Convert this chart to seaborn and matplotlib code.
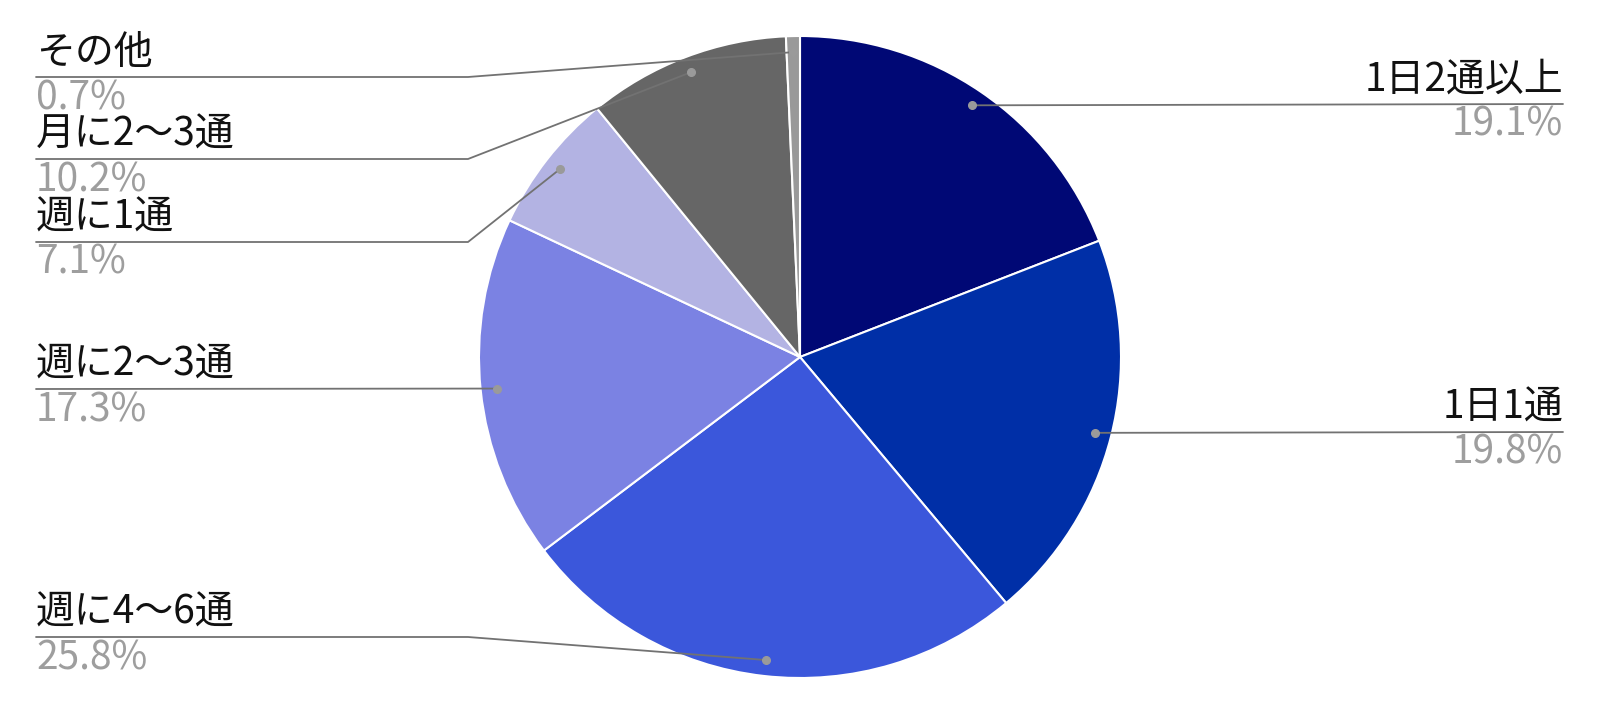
import matplotlib
matplotlib.use("Agg")
import matplotlib.pyplot as plt
import numpy as np
import seaborn as sns

# data, clockwise from 12 o'clock
categories = ["1日2通以上", "1日1通", "週に4〜6通", "週に2〜3通", "週に1通", "月に2〜3通", "その他"]
shares = [19.1, 19.8, 25.8, 17.3, 7.1, 10.2, 0.7]
colors = ["#000875", "#002fa7", "#3b57db", "#7b82e3", "#b3b3e3", "#666666", "#999999"]

# label layout (pixel rows from top, side)
label_rows = [104, 432, 637, 389, 242, 159, 77]
label_side = ["right", "right", "left", "left", "left", "left", "left"]

W, H = 1600, 714
CX, CY, R = 800, 357, 321

sns.set_theme(style="white")
plt.rcParams["font.family"] = ["Noto Sans CJK JP", "DejaVu Sans"]

fig = plt.figure(figsize=(W / 100, H / 100), dpi=100)
ax = fig.add_axes([0, 0, 1, 1])

wedges, _ = ax.pie(
    shares, colors=colors, startangle=90, counterclock=False,
    center=(CX, H - CY), radius=R,
    wedgeprops=dict(edgecolor="white", linewidth=1.5),
)
ax.set_xlim(0, W)
ax.set_ylim(0, H)
ax.set_aspect("auto")
ax.axis("off")

line_col = "#727272"
fs = 28
for w, name, val, row, side in zip(wedges, categories, shares, label_rows, label_side):
    mid = np.deg2rad((w.theta1 + w.theta2) / 2)
    px = CX + 0.95 * R * np.cos(mid)
    py = (H - CY) + 0.95 * R * np.sin(mid)
    ly = H - row
    if side == "right":
        x_text, elbow, ha = 1563, 1563, "right"
        xs, ys = [x_text, px], [ly, py]
    else:
        x_text, elbow, ha = 36, 468, "left"
        if abs(ly - py) < 2:
            xs, ys = [x_text, px], [ly, py]
        else:
            xs, ys = [x_text, elbow, px], [ly, ly, py]
    ax.plot(xs, ys, color=line_col, lw=1.3, zorder=3)
    ax.plot([px], [py], "o", color="#9a9a9a", ms=5.5, zorder=4)
    ax.text(x_text, ly + 4, name, ha=ha, va="bottom", fontsize=fs, color="#111111")
    ax.text(x_text, ly - 1, f"{val:.1f}%", ha=ha, va="top", fontsize=fs, color="#9e9e9e")

fig.savefig("out.png", dpi=100)
